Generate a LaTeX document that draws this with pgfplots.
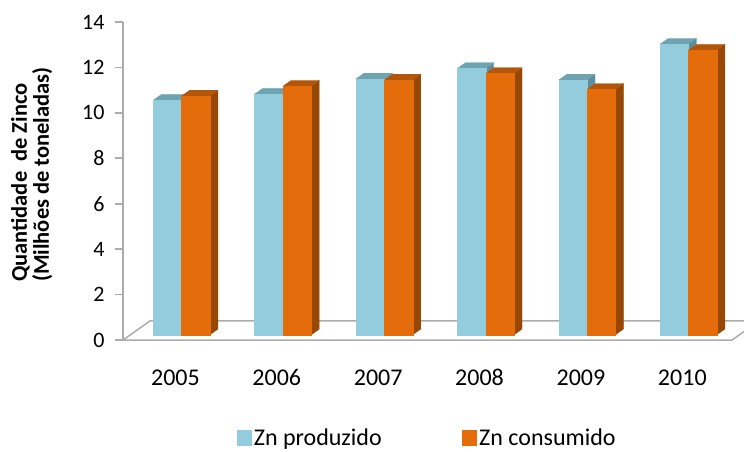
\documentclass[border=0pt]{standalone}
\usepackage{fontspec}
\setmainfont{Carlito}
\usepackage{pgfplots}
\usepackage{pgfplotstable}
\pgfplotsset{compat=1.18}

\definecolor{bluefront}{RGB}{147,205,221}
\definecolor{bluetop}{RGB}{110,163,178}
\definecolor{blueside}{RGB}{92,142,156}
\definecolor{orangefront}{RGB}{228,108,10}
\definecolor{orangetop}{RGB}{180,86,10}
\definecolor{orangeside}{RGB}{151,72,6}
\definecolor{floorgray}{RGB}{172,172,172}

% Zinc produced and consumed (million tonnes)
\pgfplotstableread{
idx prod cons
0 10.33 10.52
1 10.60 10.95
2 11.27 11.22
3 11.73 11.51
4 11.22 10.81
5 12.80 12.54
}\zinc

% geometry of the pseudo-3D bars (axis units)
\newcommand\barw{0.281}
\newcommand\depx{0.079}
\newcommand\depy{0.25}
\newcommand\barbase{0.23}

% #1 left x, #2 top y, #3 front colour, #4 top colour, #5 side colour
\newcommand\drawbar[5]{%
  \pgfmathsetmacro\xl{#1}%
  \pgfmathsetmacro\xr{#1+\barw}%
  \pgfmathsetmacro\xlb{#1+\depx}%
  \pgfmathsetmacro\xrb{#1+\barw+\depx}%
  \pgfmathsetmacro\yb{\barbase}%
  \pgfmathsetmacro\ybb{\barbase+\depy}%
  \pgfmathsetmacro\yt{#2}%
  \pgfmathsetmacro\ytb{#2+\depy}%
  \edef\doplots{%
    \noexpand\addplot[forget plot, fill=#5, draw=#5, line width=0.2pt] coordinates {(\xr,\yb) (\xrb,\ybb) (\xrb,\ytb) (\xr,\yt)};
    \noexpand\addplot[forget plot, fill=#4, draw=#4, line width=0.2pt] coordinates {(\xl,\yt) (\xr,\yt) (\xrb,\ytb) (\xlb,\ytb)};
    \noexpand\addplot[forget plot, fill=#3, draw=#3, line width=0.2pt] coordinates {(\xl,\yb) (\xr,\yb) (\xr,\yt) (\xl,\yt)};
  }\doplots
}

\begin{document}
\begin{tikzpicture}
\begin{axis}[
  scale only axis, width=609pt, height=318pt,
  xmin=-0.577, xmax=5.43, ymin=0, ymax=14,
  clip=false,
  axis lines*=left,
  axis line style={-},
  x axis line style={draw=none},
  y axis line style={draw=floorgray, line width=1.6pt},
  xtick={-0.06,0.94,1.94,2.94,3.94,4.94},
  xticklabels={2005,2006,2007,2008,2009,2010},
  xtick style={draw=none},
  ytick={0,2,...,14},
  ytick style={draw=floorgray, line width=1.6pt},
  major tick length=8pt,
  tick align=outside,
  /pgf/number format/assume math mode=true,
  yticklabel style={font=\fontsize{22}{26}\selectfont, xshift=-7pt},
  xticklabel style={font=\fontsize{24}{28}\selectfont, yshift=-18pt},
  ylabel={Quantidade\ \ de Zinco\\(Milhões de toneladas)},
  ylabel style={at={(axis description cs:-0.184,0.182)}, anchor=north west,
    align=left, inner sep=0pt, font=\bfseries\fontsize{22.5}{22}\selectfont},
  legend columns=2,
  legend style={at={(0.5,-0.308)}, anchor=center, draw=none, fill=none,
    font=\fontsize{24}{28}\selectfont,
    nodes={inner sep=2.5pt},
    /tikz/every even column/.append style={column sep=78pt}},
]
% floor of the chart
\addplot[forget plot, draw=floorgray, line width=1.5pt]
  coordinates {(-0.577,0) (5.43,0) (5.696,0.837) (-0.311,0.837) (-0.577,0)};

\pgfplotsinvokeforeach{0,...,5}{
  \pgfplotstablegetelem{#1}{prod}\of\zinc
  \pgfmathsetmacro\hp{\barbase+\pgfplotsretval}
  \pgfplotstablegetelem{#1}{cons}\of\zinc
  \pgfmathsetmacro\hc{\barbase+\pgfplotsretval}
  \drawbar{#1-\barw}{\hp}{bluefront}{bluetop}{blueside}
  \drawbar{#1}{\hc}{orangefront}{orangetop}{orangeside}
}

\addlegendimage{legend image code/.code={\fill[bluefront] (0pt,-7pt) rectangle (14pt,8pt);}}
\addlegendentry{Zn produzido}
\addlegendimage{legend image code/.code={\fill[orangefront] (0pt,-7pt) rectangle (14pt,8pt);}}
\addlegendentry{Zn consumido}
\end{axis}
\pgfresetboundingbox
\useasboundingbox (-123pt,-111pt) rectangle (621pt,340pt);
\end{tikzpicture}
\end{document}
